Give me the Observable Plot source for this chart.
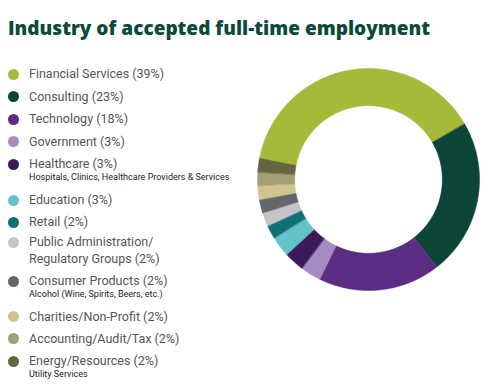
<!DOCTYPE html>
<html>
<head>
<meta charset="utf-8">
<script src="https://cdn.jsdelivr.net/npm/d3@7"></script>
<script src="https://cdn.jsdelivr.net/npm/@observablehq/plot@0.6"></script>
<style>
  html, body { margin: 0; padding: 0; background: #fff; }
  #wrap { position: relative; width: 483px; height: 387px; overflow: hidden; font-family: Roboto, "Noto Sans", sans-serif; }
  #title { position: absolute; left: 8px; top: 15px; font-family: "Open Sans", Roboto, sans-serif; font-size: 19px; line-height: 26px; font-weight: 800; color: #0b4a3b; white-space: nowrap; }
  .dot { position: absolute; left: 8px; width: 11px; height: 11px; border-radius: 50%; }
  .lab { position: absolute; left: 29px; font-size: 12.5px; color: #555; white-space: nowrap; line-height: 16px; }
  .sub { position: absolute; left: 29px; font-size: 9px; color: #222; white-space: nowrap; line-height: 10px; }
  #chart { position: absolute; left: 253px; top: 64px; }
</style>
</head>
<body>
<div id="wrap">
  <div id="title">Industry of accepted full-time employment</div>
  <div id="legend"></div>
  <div id="chart"></div>
</div>
<script>
const categories = ["Financial Services", "Consulting", "Technology", "Government", "Healthcare", "Education", "Retail", "Public Administration/\nRegulatory Groups", "Consumer Products", "Charities/Non-Profit", "Accounting/Audit/Tax", "Energy/Resources"];
const values = [39, 23, 18, 3, 3, 3, 2, 2, 2, 2, 2, 2];
const sublabels = ["", "", "", "", "Hospitals, Clinics, Healthcare Providers & Services", "", "", "", "Alcohol (Wine, Spirits, Beers, etc.)", "", "", "Utility Services"];
const colors = ["#a6b93b", "#0b4538", "#5a2d82", "#a58bc0", "#3c1a5a", "#63c3c7", "#0f7076", "#c5c5c9", "#63666b", "#d3c48f", "#a39e74", "#67653f"];

// Fit title width to the reference (~422px)
const title = document.getElementById("title");
const tw = title.getBoundingClientRect().width;
const nChars = title.textContent.length;
title.style.letterSpacing = ((422 - tw) / nChars) + "px";

// Legend (HTML)
const rowTops = [74, 96.5, 119, 141.5, 164, 200, 222, 242, 281, 316.5, 338.5, 361];
const legend = document.getElementById("legend");
categories.forEach((c, i) => {
  const y = rowTops[i];
  const dot = document.createElement("div");
  dot.className = "dot";
  dot.style.top = (y - 5.5) + "px";
  dot.style.background = colors[i];
  legend.appendChild(dot);
  const lines = c.split("\n");
  lines.forEach((ln, j) => {
    const lab = document.createElement("div");
    lab.className = "lab";
    lab.style.top = (y - 8 + j * 16.5) + "px";
    lab.textContent = j === lines.length - 1 ? ln + " (" + values[i] + "%)" : ln;
    legend.appendChild(lab);
  });
  if (sublabels[i]) {
    const s = document.createElement("div");
    s.className = "sub";
    s.style.top = (y + 8) + "px";
    s.textContent = sublabels[i];
    legend.appendChild(s);
  }
});

// Donut geometry derived from the values
const startDeg = -79;
const total = d3.sum(values);
const rOuter = 1, rInner = 0.665;
const points = [];
let acc = 0;
values.forEach((v, i) => {
  const a0 = (startDeg + acc / total * 360) * Math.PI / 180;
  acc += v;
  const a1 = (startDeg + acc / total * 360) * Math.PI / 180;
  const n = Math.max(4, Math.ceil((a1 - a0) * 180 / Math.PI));
  for (let k = 0; k <= n; k++) {
    const a = a0 + (a1 - a0) * k / n;
    points.push({cat: categories[i], x: rOuter * Math.sin(a), y: rOuter * Math.cos(a)});
  }
  for (let k = n; k >= 0; k--) {
    const a = a0 + (a1 - a0) * k / n;
    points.push({cat: categories[i], x: rInner * Math.sin(a), y: rInner * Math.cos(a)});
  }
});

const half = 115 / 111;
const plot = Plot.plot({
  width: 230,
  height: 230,
  margin: 0,
  x: {domain: [-half, half], axis: null},
  y: {domain: [-half, half], axis: null},
  color: {domain: categories, range: colors},
  marks: [
    Plot.line(points, {x: "x", y: "y", z: "cat", fill: "cat", stroke: "cat", strokeWidth: 0.5, curve: "linear-closed"})
  ]
});
document.getElementById("chart").appendChild(plot);
</script>
</body>
</html>
